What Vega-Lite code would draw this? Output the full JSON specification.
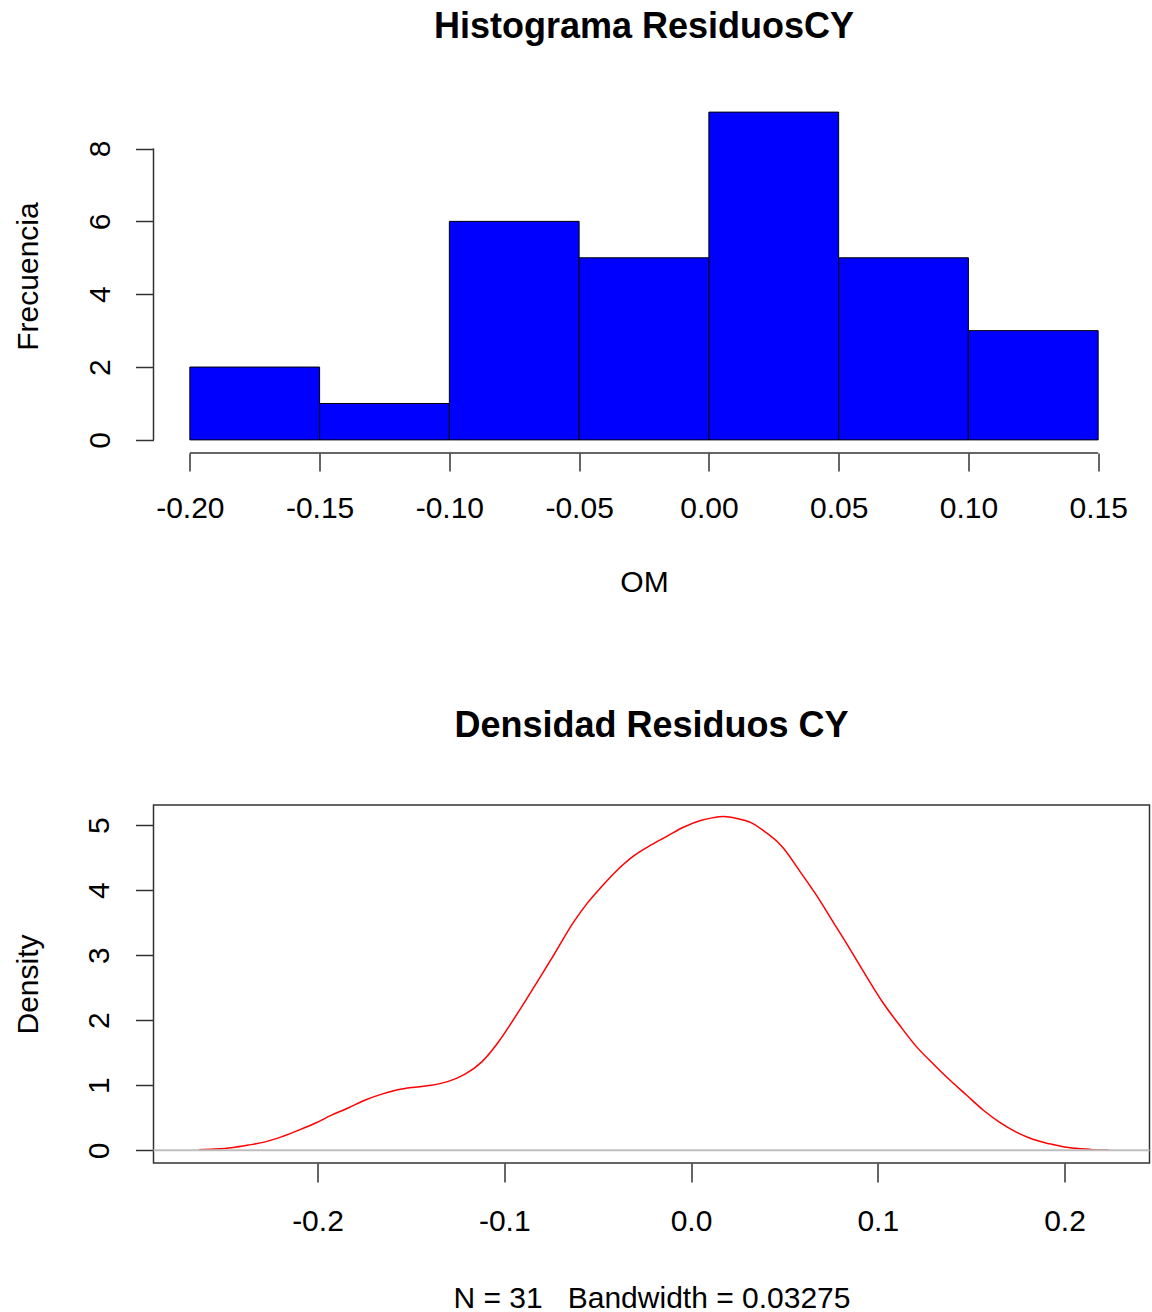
{
  "$schema": "https://vega.github.io/schema/vega-lite/v6.json",
  "padding": {"left": 12.5, "top": 9, "right": 0, "bottom": 0},
  "background": "white",
  "bounds": "flush",
  "spacing": 352,
  "config": {
    "font": "Liberation Sans",
    "view": {"stroke": null},
    "axis": {
      "labelFont": "Liberation Sans", "labelFontSize": 30, "labelColor": "#000",
      "tickColor": "#333", "tickWidth": 1.5, "tickSize": 18, "grid": false, "domain": false,
      "labelFlush": false, "labelOverlap": false,
      "titleFont": "Liberation Sans", "titleFontSize": 30, "titleFontWeight": "normal", "titleColor": "#000"
    },
    "title": {"font": "Liberation Sans", "fontSize": 36, "fontWeight": "bold", "color": "#000", "anchor": "middle", "baseline": "alphabetic"}
  },
  "vconcat": [
    {
      "width": 981,
      "height": 354,
      "title": {"text": "Histograma ResiduosCY", "offset": 53},
      "layer": [
        {
          "data": {"values": [
            {"start": -0.20, "end": -0.15, "count": 2},
            {"start": -0.15, "end": -0.10, "count": 1},
            {"start": -0.10, "end": -0.05, "count": 6},
            {"start": -0.05, "end": 0.00, "count": 5},
            {"start": 0.00, "end": 0.05, "count": 9},
            {"start": 0.05, "end": 0.10, "count": 5},
            {"start": 0.10, "end": 0.15, "count": 3}
          ]},
          "mark": {"type": "rect", "fill": "#0000FF", "stroke": "#000", "strokeWidth": 1},
          "encoding": {
            "x": {"field": "start", "type": "quantitative",
              "scale": {"domain": [-0.214, 0.164], "nice": false, "zero": false},
              "axis": {"values": [-0.2, -0.15, -0.1, -0.05, 0, 0.05, 0.1, 0.15],
                "labelExpr": "replace(format(datum.value, '.2f'), '−', '-')",
                "labelPadding": 22, "tickSize": 18,
                "title": "OM", "titleX": 490.5, "titleY": 138, "titleAlign": "center", "titleBaseline": "alphabetic"}},
            "x2": {"field": "end"},
            "y": {"field": "count", "type": "quantitative",
              "scale": {"domain": [-0.36, 9.36], "nice": false, "zero": false},
              "axis": {"values": [0, 2, 4, 6, 8], "format": "d",
                "labelAngle": 270, "labelAlign": "center", "labelBaseline": "alphabetic", "labelPadding": 26,
                "title": "Frecuencia", "titleAngle": 270, "titleX": -116, "titleY": 177, "titleAlign": "center", "titleBaseline": "alphabetic"}},
            "y2": {"datum": 0}
          }
        },
        {
          "data": {"values": [{}]},
          "mark": {"type": "rule", "stroke": "#333", "strokeWidth": 1.5},
          "encoding": {"x": {"datum": -0.2}, "x2": {"datum": 0.15}, "y": {"datum": -0.36}}
        },
        {
          "data": {"values": [{}]},
          "mark": {"type": "rule", "stroke": "#333", "strokeWidth": 1.5},
          "encoding": {"x": {"datum": -0.214}, "y": {"datum": 0}, "y2": {"datum": 8}}
        }
      ]
    },
    {
      "width": 996,
      "height": 358,
      "title": {"text": "Densidad Residuos CY", "offset": 60},
      "view": {"stroke": "#333", "strokeWidth": 1.5},
      "layer": [
        {
          "data": {"values": [
            {"x": -0.2634, "d": 0.01}, {"x": -0.255, "d": 0.02}, {"x": -0.246, "d": 0.04},
            {"x": -0.237, "d": 0.08}, {"x": -0.228, "d": 0.13}, {"x": -0.219, "d": 0.21},
            {"x": -0.210, "d": 0.31}, {"x": -0.201, "d": 0.42}, {"x": -0.1925, "d": 0.54},
            {"x": -0.1836, "d": 0.65}, {"x": -0.1747, "d": 0.77}, {"x": -0.166, "d": 0.86},
            {"x": -0.157, "d": 0.93}, {"x": -0.148, "d": 0.97}, {"x": -0.139, "d": 1.00},
            {"x": -0.130, "d": 1.06}, {"x": -0.121, "d": 1.17}, {"x": -0.112, "d": 1.36},
            {"x": -0.1035, "d": 1.65}, {"x": -0.0955, "d": 1.99}, {"x": -0.0875, "d": 2.35},
            {"x": -0.075, "d": 2.93}, {"x": -0.0626, "d": 3.52}, {"x": -0.0555, "d": 3.80},
            {"x": -0.0483, "d": 4.04}, {"x": -0.0394, "d": 4.31}, {"x": -0.0305, "d": 4.53},
            {"x": -0.0216, "d": 4.69}, {"x": -0.0127, "d": 4.83}, {"x": -0.0038, "d": 4.97},
            {"x": 0.0051, "d": 5.07}, {"x": 0.0113, "d": 5.11}, {"x": 0.0175, "d": 5.13},
            {"x": 0.0246, "d": 5.10}, {"x": 0.0318, "d": 5.04}, {"x": 0.039, "d": 4.91},
            {"x": 0.046, "d": 4.75}, {"x": 0.0496, "d": 4.64}, {"x": 0.0585, "d": 4.28},
            {"x": 0.0674, "d": 3.91}, {"x": 0.0763, "d": 3.50}, {"x": 0.0852, "d": 3.09},
            {"x": 0.094, "d": 2.67}, {"x": 0.103, "d": 2.26}, {"x": 0.112, "d": 1.91},
            {"x": 0.1208, "d": 1.59}, {"x": 0.130, "d": 1.32}, {"x": 0.1386, "d": 1.08},
            {"x": 0.1475, "d": 0.85}, {"x": 0.1564, "d": 0.62}, {"x": 0.1653, "d": 0.43},
            {"x": 0.1742, "d": 0.28}, {"x": 0.183, "d": 0.17}, {"x": 0.192, "d": 0.10},
            {"x": 0.200, "d": 0.05}, {"x": 0.206, "d": 0.03}, {"x": 0.215, "d": 0.01},
            {"x": 0.2236, "d": 0.005}
          ]},
          "mark": {"type": "line", "stroke": "#FF0000", "strokeWidth": 1.5, "interpolate": "monotone"},
          "encoding": {
            "x": {"field": "x", "type": "quantitative",
              "scale": {"domain": [-0.2878, 0.2455], "nice": false, "zero": false},
              "axis": {"values": [-0.2, -0.1, 0, 0.1, 0.2],
                "labelExpr": "replace(format(datum.value, '.1f'), '−', '-')",
                "labelPadding": 24, "tickSize": 19,
                "title": "N = 31\u00a0\u00a0\u00a0Bandwidth = 0.03275", "titleX": 498, "titleY": 144, "titleAlign": "center", "titleBaseline": "alphabetic"}},
            "y": {"field": "d", "type": "quantitative",
              "scale": {"domain": [-0.195, 5.308], "nice": false, "zero": false},
              "axis": {"values": [0, 1, 2, 3, 4, 5], "format": "d",
                "labelAngle": 270, "labelAlign": "center", "labelBaseline": "alphabetic", "labelPadding": 27,
                "title": "Density", "titleAngle": 270, "titleX": -116, "titleY": 179, "titleAlign": "center", "titleBaseline": "alphabetic"}}
          }
        },
        {
          "data": {"values": [{}]},
          "mark": {"type": "rule", "stroke": "#BEBEBE", "strokeWidth": 2},
          "encoding": {"y": {"datum": 0}}
        }
      ]
    }
  ]
}
